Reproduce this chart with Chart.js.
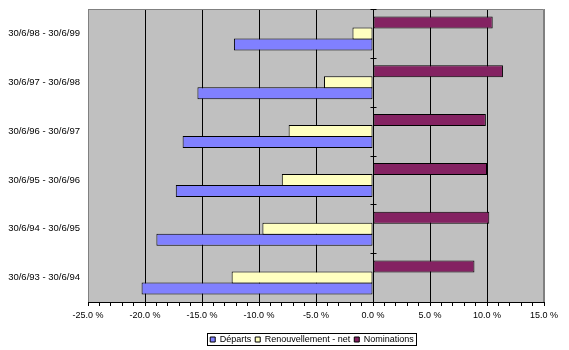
<!DOCTYPE html>
<html>
<head>
<meta charset="utf-8">
<script src="https://cdn.jsdelivr.net/npm/chart.js@4/dist/chart.umd.min.js"></script>
<style>
  html, body { margin: 0; padding: 0; background: #ffffff; }
  #wrap { width: 569px; height: 350px; }
</style>
</head>
<body>
<div id="wrap"><canvas id="c" width="569" height="350"></canvas></div>
<script>
// Périodes (de la plus ancienne à la plus récente)
const categories = [
  '30/6/93 - 30/6/94',
  '30/6/94 - 30/6/95',
  '30/6/95 - 30/6/96',
  '30/6/96 - 30/6/97',
  '30/6/97 - 30/6/98',
  '30/6/98 - 30/6/99'
];
// Taux en %
const departs        = [-20.3, -19.0, -17.3, -16.7, -15.4, -12.2];
const renouvellement = [-12.4,  -9.7,  -8.0,  -7.4,  -4.3,  -1.8];
const nominations    = [  8.9,  10.2,  10.0,   9.9,  11.4,  10.5];

const xMin = -25, xMax = 15, xMajor = 5;

const FONT = "'Liberation Sans', Arial, sans-serif";

// Fond gris de la zone de tracé, cadre, graduations et légende encadrée
const plotFrame = {
  id: 'plotFrame',
  afterLayout(chart) {
    // légende centrée sous la zone de tracé
    const lg = chart.legend;
    if (lg) {
      const a = chart.chartArea;
      const shift = (a.left + a.right) / 2 - (lg.left + lg.right) / 2 - 4;
      lg.left += shift;
      lg.right += shift;
    }
  },
  beforeDraw(chart) {
    const {ctx, chartArea: a} = chart;
    ctx.save();
    ctx.fillStyle = '#c0c0c0';
    ctx.fillRect(a.left, a.top, a.right - a.left, a.bottom - a.top);
    ctx.restore();
  },
  beforeDatasetsDraw(chart) {
    const {ctx, chartArea: a} = chart;
    ctx.save();
    ctx.strokeStyle = '#808080';
    ctx.lineWidth = 1;
    ctx.beginPath();
    ctx.moveTo(a.left + 0.5, a.bottom);
    ctx.lineTo(a.left + 0.5, a.top + 0.5);
    ctx.lineTo(a.right - 0.5, a.top + 0.5);
    ctx.lineTo(a.right - 0.5, a.bottom);
    ctx.stroke();
    ctx.restore();
  },
  // graduations de l'axe des catégories, sur la ligne du zéro
  afterDatasetsDraw(chart) {
    const {ctx, scales: {x, y}} = chart;
    const zx = Math.round(x.getPixelForValue(0)) + 0.5;
    ctx.save();
    ctx.strokeStyle = '#000';
    ctx.lineWidth = 1;
    ctx.beginPath();
    for (let i = 0; i <= categories.length; i++) {
      const py = Math.round(y.getPixelForValue(i - 0.5)) + 0.5;
      ctx.moveTo(zx - 3, py);
      ctx.lineTo(zx + 3, py);
    }
    ctx.stroke();
    ctx.restore();
  },
  // cadre de la légende
  afterDraw(chart) {
    const lg = chart.legend;
    if (!lg || !lg.legendHitBoxes || !lg.legendHitBoxes.length) return;
    const hb = lg.legendHitBoxes;
    let l = Infinity, r = -Infinity, t = Infinity, b = -Infinity;
    hb.forEach(h => {
      l = Math.min(l, h.left); r = Math.max(r, h.left + h.width);
      t = Math.min(t, h.top); b = Math.max(b, h.top + h.height);
    });
    const ctx = chart.ctx;
    ctx.save();
    ctx.strokeStyle = '#000';
    ctx.lineWidth = 1;
    ctx.strokeRect(Math.round(l - 3) + 0.5, Math.round(t - 2) + 0.5,
                   Math.round(r - l + 5), Math.round(b - t + 3));
    ctx.restore();
  }
};

const barStyle = {
  borderColor: '#000000',
  borderWidth: 1,
  borderSkipped: false,
  categoryPercentage: 0.677,
  barPercentage: 1.09
};

new Chart(document.getElementById('c'), {
  type: 'bar',
  data: {
    labels: categories,
    // ordre des barres dans chaque groupe, de haut en bas
    datasets: [
      Object.assign({label: 'Nominations', data: nominations, backgroundColor: '#842262'}, barStyle),
      Object.assign({label: 'Renouvellement - net', data: renouvellement, backgroundColor: '#ffffc0'}, barStyle),
      Object.assign({label: 'Départs', data: departs, backgroundColor: '#8080ff'}, barStyle)
    ]
  },
  options: {
    indexAxis: 'y',
    responsive: false,
    animation: false,
    devicePixelRatio: 1,
    layout: { padding: { left: 0, right: 25, top: 9, bottom: 3 } },
    plugins: {
      tooltip: { enabled: false },
      legend: {
        position: 'bottom',
        reverse: true,
        maxHeight: 16,
        labels: {
          color: '#000',
          font: { family: FONT, size: 9 },
          boxWidth: 5,
          boxHeight: 5,
          padding: 4
        }
      }
    },
    scales: {
      x: {
        type: 'linear',
        min: xMin,
        max: xMax,
        afterFit(scale) { scale.height = 29; },
        ticks: {
          stepSize: 1,
          autoSkip: false,
          maxRotation: 0,
          padding: 4,
          color: '#000',
          font: { family: FONT, size: 9 },
          callback(v) { return v % xMajor === 0 ? v.toFixed(1) + ' %' : ''; }
        },
        grid: {
          color(ctx) {
            const v = ctx.tick && ctx.tick.value;
            if (v === undefined || v % xMajor !== 0) return 'rgba(0,0,0,0)';
            if (v === xMin || v === xMax) return '#808080';
            return '#000000';
          },
          tickColor: '#000000',
          tickLength: 4,
          lineWidth: 1
        },
        border: { display: true, color: '#000000', width: 1 }
      },
      y: {
        reverse: true,
        afterFit(scale) {
          scale.width = 88;
          scale.paddingTop = 0;
          scale.paddingBottom = 0;
        },
        ticks: {
          color: '#000',
          padding: 8,
          font: { family: FONT, size: 9.5 }
        },
        grid: { display: false, drawTicks: false },
        border: { display: false }
      }
    }
  },
  plugins: [plotFrame]
});
</script>
</body>
</html>
